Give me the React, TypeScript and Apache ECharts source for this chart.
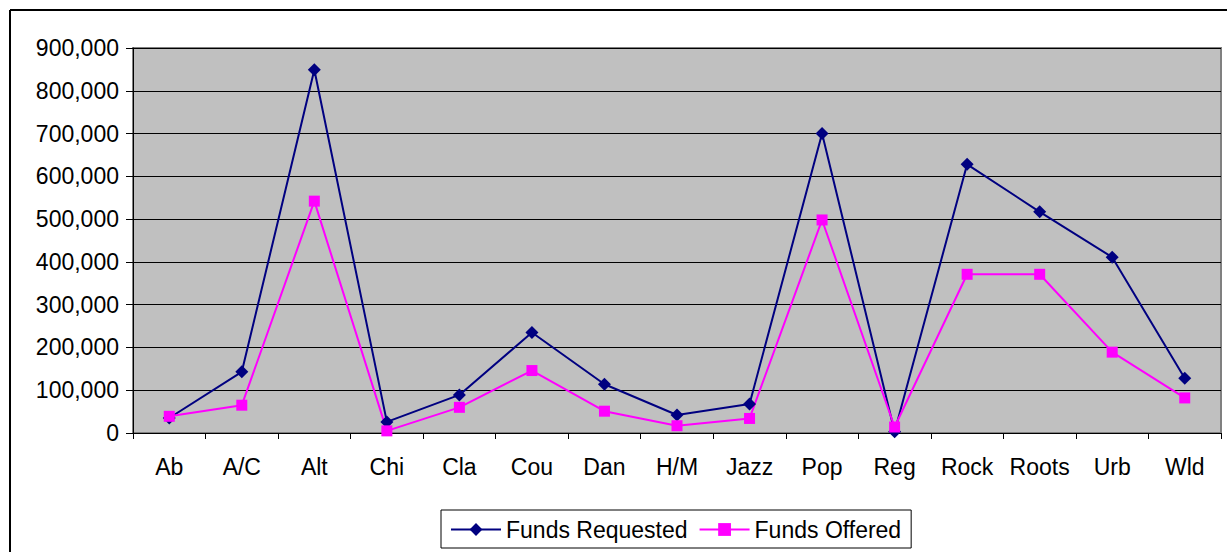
import React, { useEffect, useRef } from "react";
import * as echarts from "echarts";

const categories = ["Ab", "A/C", "Alt", "Chi", "Cla", "Cou", "Dan", "H/M", "Jazz", "Pop", "Reg", "Rock", "Roots", "Urb", "Wld"];
const fundsRequested = [35000, 143000, 849000, 26000, 89000, 235000, 114000, 42000, 68000, 700000, 3000, 628000, 517000, 411000, 128000];
const fundsOffered = [39000, 65000, 542000, 5000, 60000, 146000, 51000, 17000, 34000, 498000, 14000, 371000, 371000, 189000, 82000];
const yTicks = { min: 0, max: 900000, interval: 100000 };

const FONT = "Arial, 'Liberation Sans', sans-serif";

export default function App() {
  const ref = useRef<HTMLDivElement>(null);
  useEffect(() => {
    if (!ref.current) return;
    const chart = echarts.init(ref.current, null, { renderer: "svg" });
    chart.setOption({
      animation: false,
      backgroundColor: "#ffffff",
      textStyle: { fontFamily: FONT },
      grid: {
        left: 133,
        right: 6,
        top: 48,
        bottom: 119,
        show: true,
        backgroundColor: "#C0C0C0",
        borderColor: "#808080",
        borderWidth: 2,
      },
      graphic: [
        { type: "line", shape: { x1: 10, y1: 10, x2: 1227, y2: 10 }, style: { stroke: "#000", lineWidth: 2 } },
        { type: "line", shape: { x1: 10, y1: 10, x2: 10, y2: 552 }, style: { stroke: "#000", lineWidth: 2 } },
      ],
      legend: {
        left: 441,
        top: 510,
        orient: "horizontal",
        padding: [8, 10, 7, 9],
        itemGap: 11,
        itemWidth: 50,
        itemHeight: 16,
        borderColor: "#000",
        borderWidth: 1,
        backgroundColor: "#fff",
        textStyle: { fontSize: 23, color: "#000", fontFamily: FONT },
        data: ["Funds Requested", "Funds Offered"],
      },
      xAxis: {
        type: "category",
        data: categories,
        boundaryGap: true,
        axisLine: { lineStyle: { color: "#000", width: 1 } },
        axisTick: { show: true, length: 6, lineStyle: { color: "#000" } },
        axisLabel: { fontSize: 23, color: "#000", margin: 22, fontFamily: FONT, interval: 0 },
      },
      yAxis: {
        type: "value",
        min: yTicks.min,
        max: yTicks.max,
        interval: yTicks.interval,
        axisLine: { show: true, lineStyle: { color: "#000", width: 1 } },
        axisTick: { show: true, length: 7, lineStyle: { color: "#000" } },
        axisLabel: {
          fontSize: 23,
          color: "#000",
          margin: 14,
          fontFamily: FONT,
          formatter: (v: number) => v.toLocaleString("en-US"),
        },
        splitLine: { show: true, lineStyle: { color: "#000", width: 1 } },
      },
      series: [
        {
          name: "Funds Requested",
          type: "line",
          data: fundsRequested,
          symbol: "diamond",
          symbolSize: 13,
          itemStyle: { color: "#000080" },
          lineStyle: { color: "#000080", width: 2 },
        },
        {
          name: "Funds Offered",
          type: "line",
          data: fundsOffered,
          symbol: "rect",
          symbolSize: 11,
          itemStyle: { color: "#FF00FF" },
          lineStyle: { color: "#FF00FF", width: 2 },
        },
      ],
    });
    return () => chart.dispose();
  }, []);
  return (
    <div
      ref={ref}
      style={{ position: "absolute", left: 0, top: 0, width: 1227, height: 552 }}
    />
  );
}
